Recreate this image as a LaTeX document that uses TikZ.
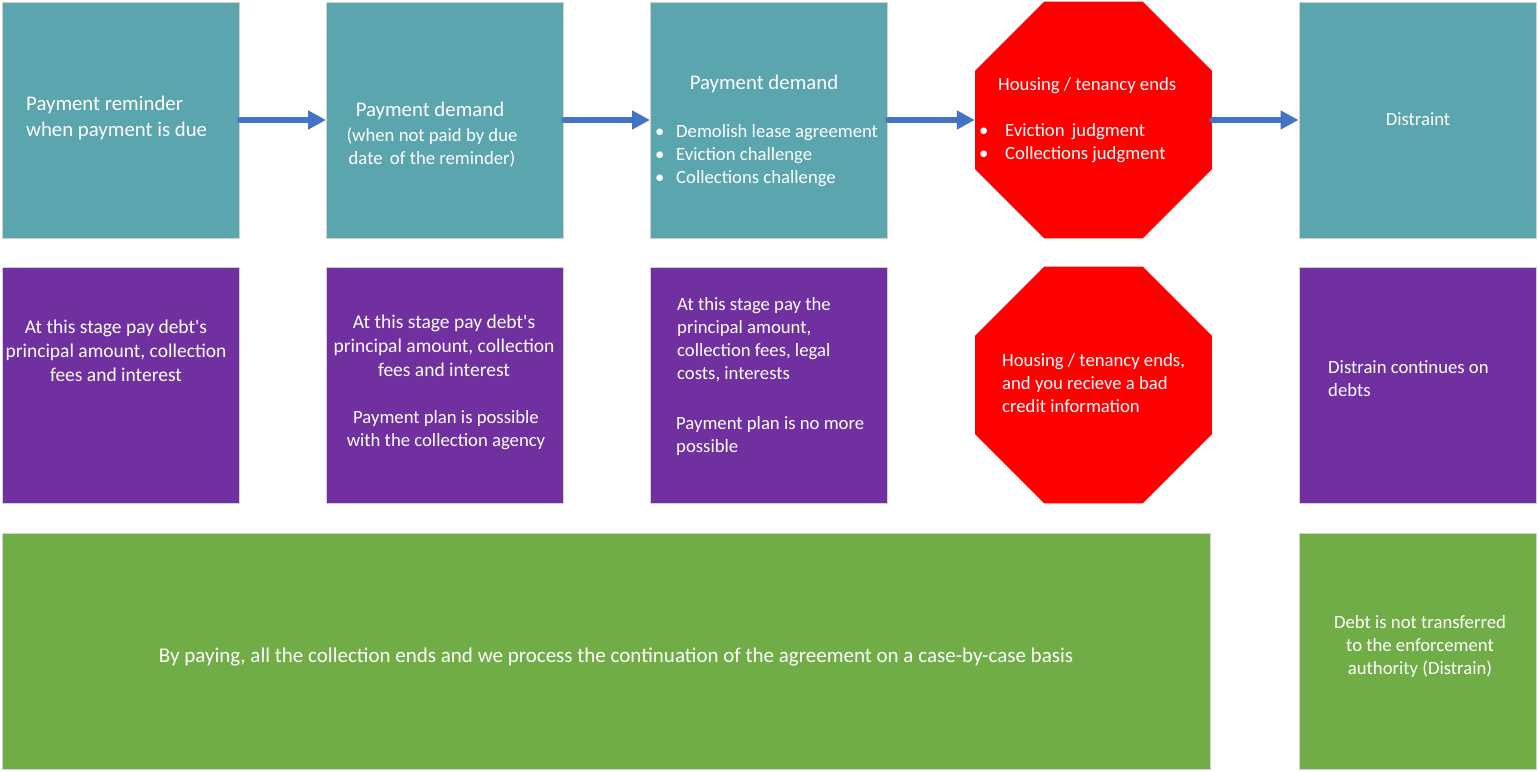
\documentclass[tikz,border=0pt]{standalone}
\usepackage{fontspec}
\setmainfont{Carlito}
\usetikzlibrary{arrows.meta,shapes.geometric}
\definecolor{tealbox}{HTML}{5BA5AE}
\definecolor{purplebox}{HTML}{7030A0}
\definecolor{greenbox}{HTML}{70AD47}
\definecolor{stopred}{HTML}{FF0000}
\definecolor{arrowblue}{HTML}{4472C4}
\newcommand{\bul}[1]{\makebox[#1][l]{\textbullet}}

\begin{document}
\begin{tikzpicture}[x=1pt,y=-1pt,
  stage/.style={rectangle,draw=gray!35,line width=1pt,fill=tealbox,minimum width=237pt,minimum height=236pt,inner sep=0pt},
  note/.style={stage,fill=purplebox},
  payoff/.style={stage,fill=greenbox},
  stop/.style={regular polygon,regular polygon sides=8,fill=stopred,minimum size=256.5pt,inner sep=0pt},
  txt/.style={text=white,inner sep=0pt,font=\fontsize{18.7}{23}\selectfont},
  mid/.style={txt,font=\fontsize{19.5}{24}\selectfont},
  big/.style={txt,font=\fontsize{20.8}{26}\selectfont},
  flow/.style={draw=arrowblue,line width=5.5pt,line cap=round,-{Triangle[length=18pt,width=18pt]}}]
  \useasboundingbox (0,0) rectangle (1539,771);

  % top row
  \node[stage] (s1) at (121,120) {};
  \node[stage] (s2) at (445,120) {};
  \node[stage] (s3) at (769,120) {};
  \node[stop] (s4) at (1093.5,120) {};
  \node[stage] (s5) at (1417.5,120) {};

  \node[big,anchor=west,align=left] (t1) at (26,118) {Payment reminder\\when payment is due};
  \node[big] (t2a) at (430,111) {Payment demand};
  \node[txt,align=center] (t2b) at (432,147.5) {(when not paid by due\\date\, of the reminder)};
  \node[big] (t3a) at (764,84) {Payment demand};
  \node[txt,anchor=west,align=left] (t3b) at (655,156)
    {\bul{21pt}Demolish lease agreement\\\bul{21pt}Eviction challenge\\\bul{21pt}Collections challenge};
  \node[txt,anchor=west] (t4a) at (998,86) {Housing / tenancy ends};
  \node[txt,anchor=west,align=left] (t4b) at (979,143)
    {\bul{26pt}Eviction\, judgment\\\bul{26pt}Collections judgment};
  \node[txt] (t5) at (1418,119) {Distraint};

  \draw[flow] (s1.east) -- (s2.west);
  \draw[flow] (s2.east) -- (s3.west);
  \draw[flow] (s3.east) -- (s4.west);
  \draw[flow] (s4.east) -- (s5.west);

  % middle row
  \node[note] (n1) at (121,385) {};
  \node[note] (n2) at (445,385) {};
  \node[note] (n3) at (769,385) {};
  \node[stop] (n4) at (1093.5,385) {};
  \node[note] (n5) at (1417.5,385) {};

  \node[mid,align=center] (m1) at (116,351) {At this stage pay debt\textquotesingle s\\principal amount, collection\\fees and interest};
  \node[mid,align=center] (m2a) at (444,346) {At this stage pay debt\textquotesingle s\\principal amount, collection\\fees and interest};
  \node[txt,align=center] (m2b) at (446,430.5) {Payment plan is possible\\with the collection agency};
  \node[txt,anchor=west,align=left] (m3a) at (677,339.5) {At this stage pay the\\principal amount,\\collection fees, legal\\costs, interests};
  \node[txt,anchor=west,align=left] (m3b) at (676,436.5) {Payment plan is no more\\possible};
  \node[txt,anchor=west,align=left] (m4) at (1002,383) {Housing / tenancy ends,\\and you recieve a bad\\credit information};
  \node[txt,anchor=west,align=left] (m5) at (1328,378.5) {Distrain continues on\\debts};

  % bottom row
  \node[payoff,minimum width=1208pt] (p1) at (606,651.5) {};
  \node[payoff] (p2) at (1417.5,651.5) {};
  \node[txt,font=\fontsize{21}{26}\selectfont] (b1) at (616,657) {By paying, all the collection ends and we process the continuation of the agreement on a case-by-case basis};
  \node[txt,align=center] (b2) at (1420,647) {Debt is not transferred\\to the enforcement\\authority (Distrain)};
\end{tikzpicture}
\end{document}
